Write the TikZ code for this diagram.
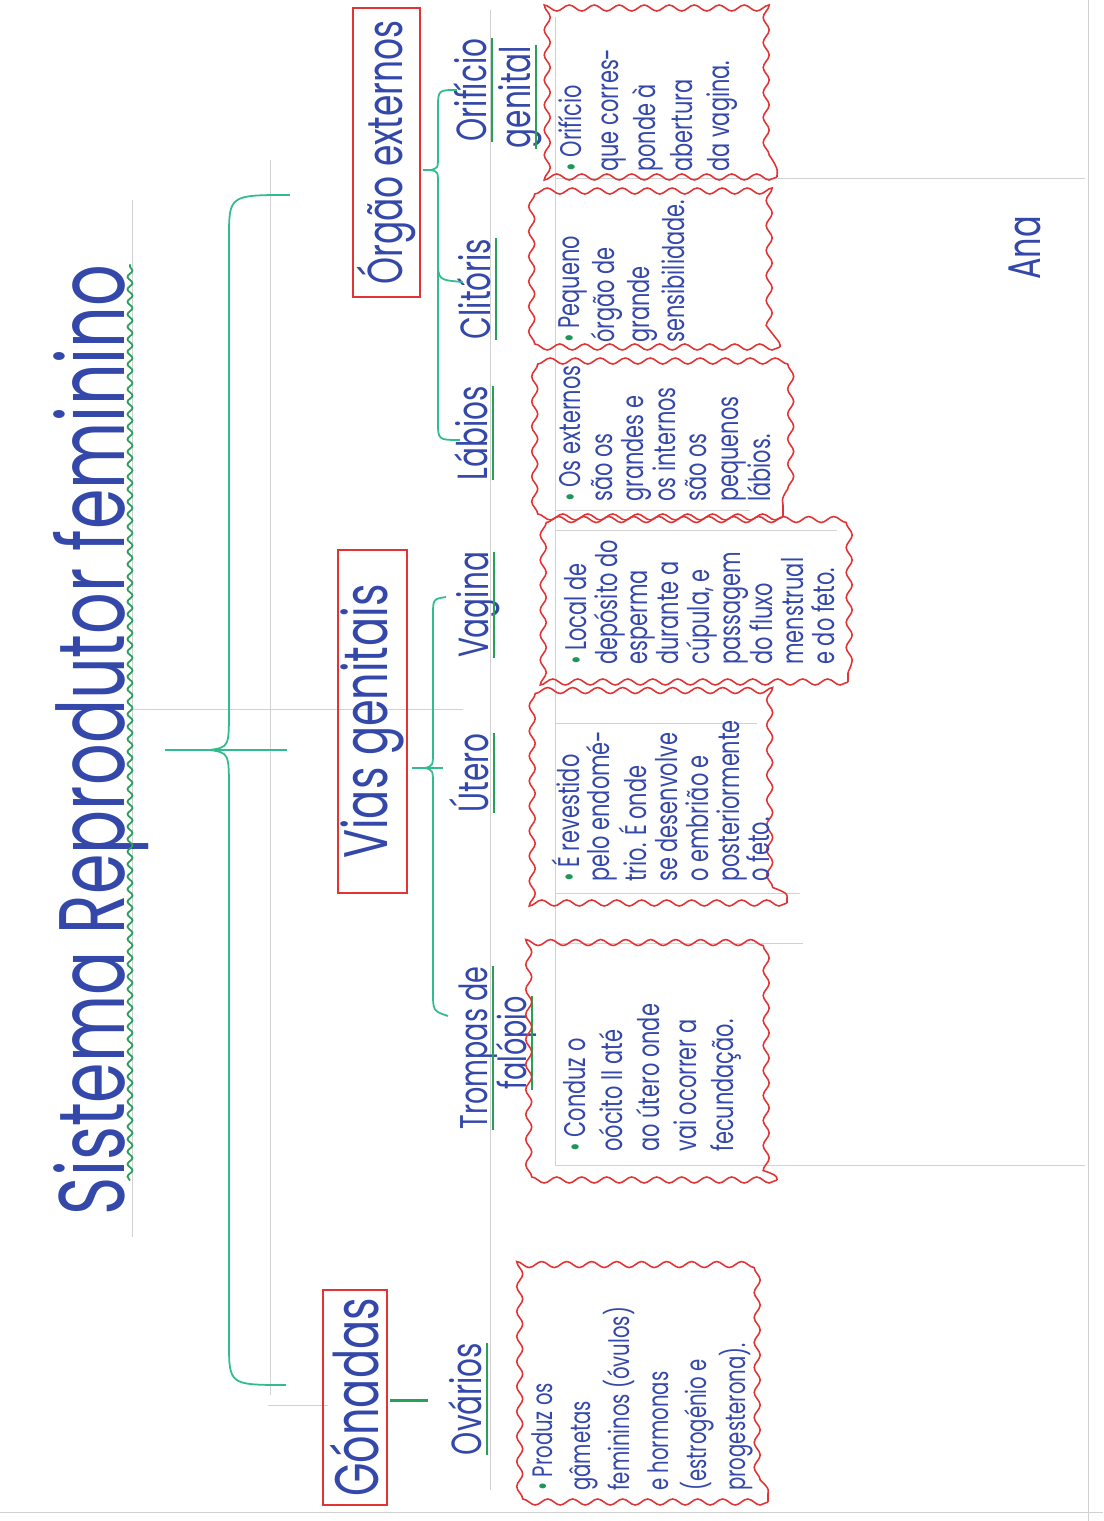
\documentclass[tikz,border=0pt]{standalone}
\usepackage{fontspec}
\setmainfont{Poppins}[FakeStretch=0.7]
\usetikzlibrary{calc,positioning,decorations.pathmorphing}
\definecolor{inkblue}{RGB}{52,72,170}
\definecolor{boxred}{RGB}{226,52,52}
\definecolor{bracegreen}{RGB}{48,188,140}
\definecolor{ulgreen}{RGB}{40,160,90}
\definecolor{dotgreen}{RGB}{30,150,90}
\newcommand{\gdot}{{\color{dotgreen}\textbullet}\ }

\begin{document}
\begin{tikzpicture}[x=0.02cm, y=0.02cm,
  maintitle/.style={text=inkblue, inner sep=0pt, font=\fontsize{53}{58}\selectfont},
  lvlone/.style={draw=boxred, line width=1.1pt, text=inkblue, inner sep=0pt, font=\fontsize{35}{37}\selectfont},
  lvltwo/.style={text=inkblue, inner sep=0pt, font=\fontsize{24}{26}\selectfont},
  desc/.style={text=inkblue, inner sep=0pt, anchor=north west, align=left, font=\fontsize{17}{#1}\selectfont},
  desc/.default=20,
  wavybox/.style={draw=boxred, line width=0.9pt, decorate, decoration={snake, amplitude=0.6mm, segment length=5mm}},
  greenbrace/.style={draw=bracegreen, line width=1pt},
  uline/.style={draw=ulgreen, line width=1pt},
  pencil/.style={draw=gray!35, line width=0.3pt}]
\begin{scope}[rotate=90, transform shape]
  % sheet, read sideways
  \fill[white] (0,0) rectangle (1521,1103);
  \useasboundingbox (0,0) rectangle (1521,1103);

  % pencil guide lines
  \foreach \yy/\xa/\xb in {833/126/1361, 971/284/1321, 613/31/1511, 548/356/1504, 15/0/1521}
    \draw[pencil] (\xa,\yy) -- (\xb,\yy);
  \foreach \xx/\ya/\yb in {9/0/1103, 812/973/640, 116/835/775, 356/548/18, 578/548/300,
                           628/548/303, 798/548/346, 991/548/266, 1011/548/353, 1343/548/18}
    \draw[pencil] (\xx,\ya) -- (\xx,\yb);

  % title
  \node[maintitle, anchor=base] (ttl) at (781,978) {Sistema Reprodutor feminino};
  \draw[uline, decorate, decoration={snake, amplitude=0.5mm, segment length=2.5mm}]
    ($(ttl.base west)+(35,-5)$) -- ($(ttl.base east)+(0,-5)$);

  % first level
  \node[lvlone, minimum width=4.3cm, minimum height=1.28cm] (gon) at (123.5,748) {Gónadas};
  \node[lvlone, minimum width=6.86cm, minimum height=1.38cm] (vias) at (799.5,730.5) {Vias genitais};
  \node[lvlone, minimum width=5.78cm, minimum height=1.34cm, font=\fontsize{28}{30}\selectfont] (org) at (1368.5,716.5) {Órgão externos};

  % main brace
  \coordinate (mbL) at (136,817);
  \coordinate (mbR) at (1326,813);
  \coordinate (mbTip) at (771,938);
  \coordinate (mbFoot) at (771,816);
  \draw[greenbrace] (mbL) .. controls (136,874) .. (180,874) -- (730,874)
    .. controls (768,874) .. (771,893) .. controls (774,874) .. (812,874) -- (1282,874)
    .. controls (1326,874) .. (mbR);
  \draw[greenbrace] (mbTip) -- (mbFoot);

  % second level
  \node[lvltwo, anchor=base] (ovaLbl) at (122,621) {Ovários};
  \node[lvltwo, anchor=base, font=\fontsize{22}{24}\selectfont] (tromLbl) at (473,615) {Trompas de};
  \node[lvltwo, anchor=base, font=\fontsize{22}{24}\selectfont] (falLbl) at (478,576) {falópio};
  \node[lvltwo, anchor=base] (uteLbl) at (748,614) {Útero};
  \node[lvltwo, anchor=base] (vagLbl) at (916,614) {Vagina};
  \node[lvltwo, anchor=base] (labLbl) at (1088,615) {Lábios};
  \node[lvltwo, anchor=base] (cliLbl) at (1232,612) {Clitóris};
  \node[lvltwo, anchor=base] (oriLbl) at (1431,616) {Orifício};
  \node[lvltwo, anchor=base] (genLbl) at (1424,572) {genital};
  \foreach \n in {ovaLbl,tromLbl,falLbl,uteLbl,vagLbl,labLbl,cliLbl,oriLbl,genLbl}
    \draw[uline] ($(\n.base west)+(0,-5)$) -- ($(\n.base east)+(0,-5)$);

  % gonads -> ovaries
  \draw[uline, line width=1.6pt] ($(gon.south)+(-3,-2)$) -- ($(gon.south)+(-3,-40)$);

  % brace of the genital tract
  \coordinate (vbL) at (505,655);
  \coordinate (vbR) at (924,657);
  \coordinate (vbTip) at (753,691);
  \coordinate (vbFoot) at (753,660);
  \draw[greenbrace] (vbL) .. controls (510,670) .. (530,670) -- (735,670)
    .. controls (751,670) .. (753,678) .. controls (755,670) .. (771,670) -- (905,670)
    .. controls (922,670) .. (vbR);
  \draw[greenbrace] (vbTip) -- (vbFoot);

  % brace of the external organs
  \coordinate (obR) at (1431,646);
  \coordinate (obC) at (1239,640);
  \coordinate (obL) at (1081,643);
  \coordinate (obTip) at (1351,680);
  \draw[greenbrace] (obR) .. controls (1431,665) .. (1412,665) -- (1365,665)
    .. controls (1353,665) .. (1351,672) .. controls (1349,665) .. (1337,665) -- (1100,665)
    .. controls (1081,665) .. (obL);
  \draw[greenbrace] (1262,665) .. controls (1241,665) .. (obC);
  \draw[greenbrace] (obTip) -- (1351,672);

  % description boxes
  \foreach \xa/\ya/\xb/\yb in {19/335/253/575, 341/326/583/561, 618/316/831/563, 839/255/998/558,
                               1004/320/1161/558, 1174/323/1331/556, 1344/326/1513/553}
    \draw[wavybox] (\xa,\ya) rectangle (\xb,\yb);

  \node[desc, font=\fontsize{16}{22}\selectfont] (ovaTxt) at (30,572) {\gdot Produz os\\gâmetas\\femininos (óvulos)\\e hormonas\\(estrogénio e\\progesterona).};
  \node[desc=21] (tromTxt) at (369,540) {\gdot Conduz o\\oócito II até\\ao útero onde\\vai ocorrer a\\fecundação.};
  \node[desc=17.5] (uteTxt) at (639,552) {\gdot É revestido\\pelo endomé-\\trio. É onde\\se desenvolve\\o embrião e\\posteriormente\\o feto.};
  \node[desc=17.5] (vagTxt) at (856,539) {\gdot Local de\\depósito do\\esperma\\durante a\\cúpula, e\\passagem\\do fluxo\\menstrual\\e do feto.};
  \node[desc=18] (labTxt) at (1019,544) {\gdot Os externos\\são os\\grandes e\\os internos\\são os\\pequenos\\lábios.};
  \node[desc=20] (cliTxt) at (1178,545) {\gdot Pequeno\\órgão de\\grande\\sensibilidade.};
  \node[desc=21] (oriTxt) at (1349,545) {\gdot Orifício\\que corres-\\ponde à\\abertura\\da vagina.};

  % signature
  \node[lvltwo, font=\fontsize{26}{28}\selectfont] (sig) at (1273,78) {Ana};
\end{scope}
\end{tikzpicture}
\end{document}
